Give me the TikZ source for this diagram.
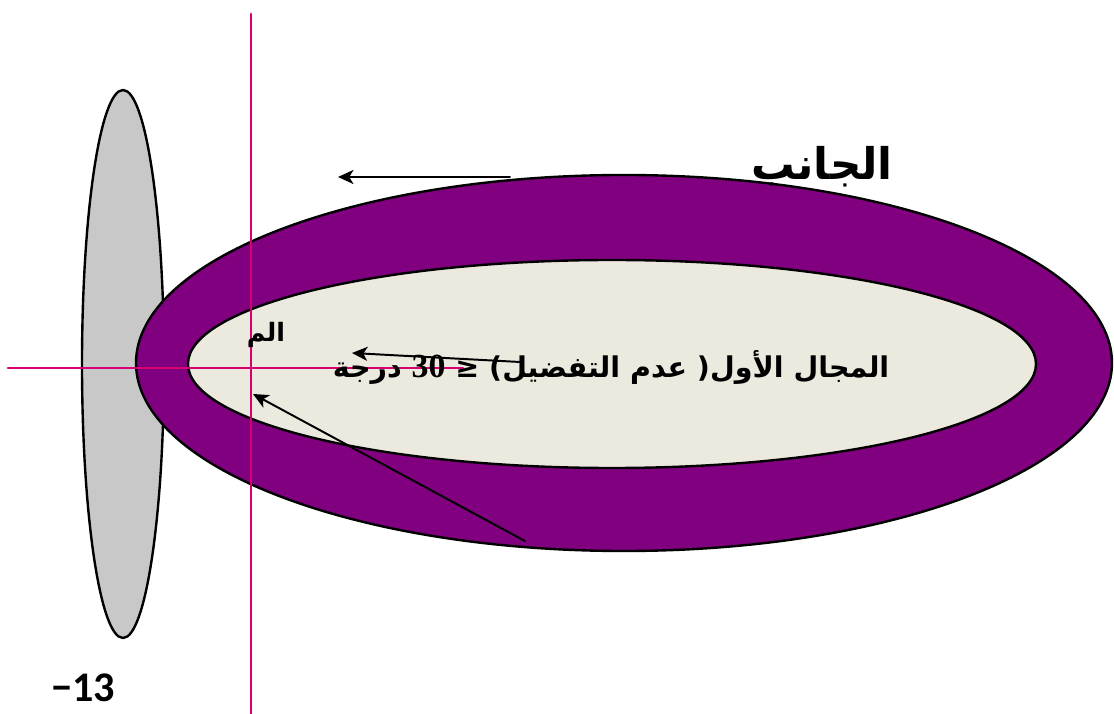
\documentclass[tikz,border=0pt]{standalone}
\usepackage{fontspec}
\setmainfont{Liberation Sans}
\newfontfamily\arabicfont[Script=Arabic]{DejaVu Sans}
\newfontfamily\numfont{Carlito}
\newfontfamily\serifnum{Liberation Serif}
\usetikzlibrary{arrows.meta}
\TeXXeTstate=1
\definecolor{lobepurple}{RGB}{128,0,128}
\definecolor{coreivory}{RGB}{236,233,223}
\definecolor{axispink}{RGB}{214,0,112}
\definecolor{sidegray}{RGB}{200,200,200}
\tikzset{
  rim/.style={draw=black,line width=1.7pt},
  axisline/.style={draw=axispink,line width=2pt},
  pointer/.style={draw=black,line width=1.4pt,-{Stealth[length=11pt,width=10pt,inset=3pt]}},
  label/.style={inner sep=0pt,font=\arabicfont\bfseries}
}
\begin{document}
\begin{tikzpicture}[x=0.025cm,y=-0.025cm,line cap=round,line join=round]
 \useasboundingbox (0,0) rectangle (1114,714);
 % lobes
 \filldraw[rim,fill=sidegray] (123,364) ellipse [x radius=41, y radius=274];
 \filldraw[rim,fill=lobepurple] (624,363) ellipse [x radius=488, y radius=188];
 \filldraw[rim,fill=coreivory] (612,364) ellipse [x radius=424, y radius=104];
 % axes
 \draw[axisline] (251,14) -- (251,714);
 \draw[axisline] (8,368) -- (463,368);
 % texts
 \node[label,font=\arabicfont\bfseries\fontsize{31pt}{34pt}\selectfont] (side) at (822,167) {\beginR الجانب\endR};
 \node[label,font=\arabicfont\bfseries\fontsize{20.3pt}{24pt}\selectfont] (field) at (611,368) {\beginR المجال الأول( عدم التفضيل) ≤ \beginL{\serifnum\bfseries\fontsize{24pt}{24pt}\selectfont 30}\endL{} درجة\endR};
 \node[label,font=\arabicfont\bfseries\fontsize{18pt}{20pt}\selectfont] (cut) at (266,335) {\beginR الم\endR};
 \node[inner sep=0pt,font=\numfont\bfseries\fontsize{30pt}{32pt}\selectfont] (page) at (83,688) {−13};
 % arrows
 \coordinate (topTail) at (510,177);
 \coordinate (topHead) at (338,177);
 \coordinate (midTail) at (520,362);
 \coordinate (midHead) at (352,353);
 \coordinate (lowTail) at (525,541);
 \coordinate (lowHead) at (253,394);
 \draw[pointer] (topTail) -- (topHead);
 \draw[pointer] (midTail) -- (midHead);
 \draw[pointer] (lowTail) -- (lowHead);
\end{tikzpicture}
\end{document}
